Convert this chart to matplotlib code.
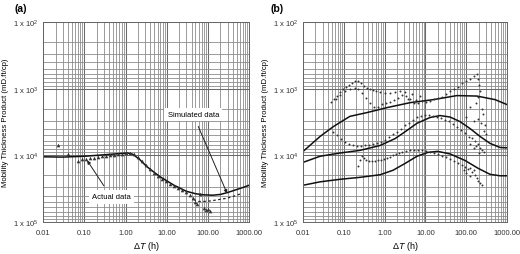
import matplotlib
matplotlib.use("Agg")
import matplotlib.pyplot as plt
from matplotlib.ticker import LogLocator, NullFormatter

plt.rcParams['font.family'] = ['Liberation Sans', 'DejaVu Sans']
plt.rcParams['mathtext.fontset'] = 'custom'
plt.rcParams['mathtext.rm'] = 'Liberation Sans'
plt.rcParams['mathtext.it'] = 'Liberation Sans:italic'

# ---------------- panel (a) ----------------
sim_a_t = [0.01, 0.03, 0.1, 0.3, 0.7, 1.1, 1.5, 2.2, 3.2, 5, 7, 10, 15, 20, 30,
           50, 80, 130, 200, 300, 500, 800, 1000]
sim_a_k = [1.05e4, 1.06e4, 1.03e4, 9.8e3, 9.4e3, 9.2e3, 9.6e3, 1.15e4, 1.45e4,
           1.8e4, 2.1e4, 2.4e4, 2.8e4, 3.05e4, 3.45e4, 3.75e4, 3.9e4, 3.95e4,
           3.85e4, 3.6e4, 3.25e4, 2.95e4, 2.8e4]

act_a_t = [0.023, 0.040, 0.071, 0.089, 0.111, 0.138, 0.173, 0.216, 0.27, 0.34,
           0.42, 0.53, 0.66, 0.83, 1.03, 1.29, 1.62, 2.02, 2.53, 3.16, 3.95,
           4.9, 6.2, 7.7, 9.7, 12.1, 15.1, 18.9, 23.7, 29.6, 37, 43.7, 48.9,
           54.7, 64.7, 80.9, 90.4, 101, 113]
act_a_k = [7100, 9660, 12300, 11480, 11480, 11090, 11090, 10720, 10350, 10100,
           10000, 9800, 9660, 9500, 9340, 9340, 9660, 10720, 12300, 14100,
           16180, 18560, 20570, 22800, 24430, 27100, 29000, 31100, 33300,
           35700, 39500, 43800, 50300, 53900, 38200, 61800, 66200, 63900, 68500]

dash_a_t = [45, 60, 80, 120, 180, 280, 420, 600]
dash_a_k = [4.6e4, 4.9e4, 4.9e4, 4.8e4, 4.6e4, 4.4e4, 4.1e4, 3.8e4]

# ---------------- panel (b) ----------------
sim_b1_t = [0.01, 0.026, 0.055, 0.14, 0.37, 1.15, 4.2, 15.5, 59, 183, 510, 1000]
sim_b1_k = [8.7e3, 5.2e3, 3.7e3, 2.6e3, 2.28e3, 1.92e3, 1.62e3, 1.46e3, 1.27e3,
            1.29e3, 1.46e3, 1.73e3]

sim_b2_t = [0.01, 0.026, 0.081, 0.25, 0.77, 1.8, 3.2, 6.2, 13, 22.8, 40, 70,
            124, 218, 383, 673, 1000]
sim_b2_k = [1.27e4, 1.03e4, 9.2e3, 8.4e3, 7.1e3, 5.6e3, 4.4e3, 3.3e3, 2.7e3,
            2.53e3, 2.66e3, 3.11e3, 3.96e3, 5.2e3, 6.6e3, 7.6e3, 7.7e3]

sim_b3_t = [0.01, 0.026, 0.081, 0.25, 0.77, 1.6, 3.16, 6.2, 11.6, 20, 40, 93,
            195, 383, 673, 1000]
sim_b3_k = [2.8e4, 2.49e4, 2.28e4, 2.13e4, 1.95e4, 1.67e4, 1.32e4, 1.03e4,
            9.0e3, 8.7e3, 9.5e3, 1.19e4, 1.56e4, 1.92e4, 2.02e4, 2.02e4]

# upper measured data (two tracks + late scatter)
dat_b1_t = [0.0485, 0.0575, 0.068, 0.081, 0.095, 0.113, 0.134, 0.159, 0.188,
            0.22, 0.26, 0.31, 0.37, 0.44, 0.52, 0.62, 0.77, 1.02, 1.36, 1.8,
            2.4, 3.2, 3.8, 4.7, 5.9, 7.4,
            0.064, 0.081, 0.107, 0.142, 0.188, 0.22, 0.28, 0.35, 0.44, 0.55,
            0.69, 0.86, 1.08, 1.36, 1.7, 2.1, 2.7, 3.3, 4.2, 5.2, 6.6, 8.2,
            10.4, 13, 16.2, 20.3, 25.5, 32, 40, 50, 63, 79, 99, 124, 156, 183,
            195, 206, 218, 195, 175, 245, 260, 195, 231, 290, 275, 308, 124,
            99, 156]
dat_b1_k = [1562, 1410, 1272, 1107, 1000, 935, 874, 814, 762, 762, 814, 903,
            968, 1000, 1034, 1070, 1107, 1146, 1146, 1107, 1070, 1107, 1410,
            1188, 1459, 1272,
            1410, 1229, 1070, 1000, 968, 1000, 1146, 1362, 1617, 1856, 1856,
            1675, 1617, 1562, 1459, 1362, 1229, 1272, 1410, 1617, 1617, 1510,
            1562, 1510, 1410, 1362, 1317, 1188, 1070, 1000, 935, 814, 762, 710,
            640, 597, 710, 874, 1070, 1317, 1617, 1990, 2360, 2805, 3215, 3560,
            4240, 4860, 1856, 2620, 3000]

# middle measured data
dat_b2_t = [0.054, 0.068, 0.085, 0.107, 0.134, 0.17, 0.21, 0.26, 0.33, 0.41,
            0.52, 0.65, 0.81, 1.02, 1.28, 1.6, 2.0, 2.5, 3.2, 4.0, 5.0, 6.2,
            7.8, 9.8, 12.3, 15.5, 19.5, 24, 30, 38, 48, 60, 74, 93, 117, 138,
            164, 195, 218, 175, 245, 124, 156, 206, 275]
dat_b2_k = [4390, 5030, 5770, 6400, 6850, 7100, 7340, 7340, 7100, 7100, 6850,
            6620, 6400, 5970, 5390, 4860, 4390, 3955, 3560, 3215, 2900, 2700,
            2530, 2440, 2440, 2530, 2620, 2710, 2900, 3100, 3440, 3700, 4100,
            4540, 5210, 5575, 6180, 6850, 7860, 7340, 8420, 6850, 7860, 9335,
            9000]

# lower measured data
dat_b3_t = [0.22, 0.25, 0.28, 0.31, 0.35, 0.415, 0.49, 0.58, 0.69, 0.82, 0.97,
            1.15, 1.36, 1.6, 1.9, 2.3, 2.7, 3.3, 4.2, 5.2, 6.6, 8.2, 10.4, 13,
            16.2, 20.3, 25.5, 32, 40, 50, 63, 79, 93, 111, 124, 139, 156, 164,
            183, 195, 218, 245, 99, 124, 88]
dat_b3_k = [14660, 11880, 10350, 11090, 11880, 12300, 12300, 12300, 11880,
            11880, 11480, 11090, 10720, 10000, 9660, 9335, 9010, 8715, 8420,
            8420, 8420, 8420, 8715, 9010, 9335, 9660, 10350, 10720, 11480,
            12300, 13160, 14100, 15100, 16200, 15630, 17930, 16750, 19900,
            22040, 24550, 26170, 28000, 18560, 20670, 16750]

x_ticks = [0.01, 0.1, 1, 10, 100, 1000]
x_labels = ['0.01', '0.10', '1.00', '10.00', '100.00', '1000.00']
y_ticks = [1e2, 1e3, 1e4, 1e5]
y_labels = ['1 x 10$^{2}$', '1 x 10$^{3}$', '1 x 10$^{4}$', '1 x 10$^{5}$']

fig = plt.figure(figsize=(5.2, 2.55), dpi=100)
ax_a = fig.add_axes([0.083, 0.125, 0.396, 0.785])
ax_b = fig.add_axes([0.583, 0.125, 0.392, 0.785])


def style_axes(ax):
    ax.set_xscale('log')
    ax.set_yscale('log')
    ax.set_xlim(0.01, 1000)
    ax.set_ylim(1e5, 1e2)
    ax.xaxis.set_minor_locator(LogLocator(base=10, subs=range(2, 10), numticks=20))
    ax.yaxis.set_minor_locator(LogLocator(base=10, subs=range(2, 10), numticks=20))
    ax.xaxis.set_minor_formatter(NullFormatter())
    ax.yaxis.set_minor_formatter(NullFormatter())
    ax.set_xticks(x_ticks)
    ax.set_xticklabels(x_labels)
    ax.set_yticks(y_ticks)
    ax.set_yticklabels(y_labels)
    ax.grid(True, which='major', color='#6a6a6a', lw=0.75)
    ax.grid(True, which='minor', color='#8c8c8c', lw=0.6)
    ax.set_axisbelow(True)
    ax.tick_params(which='both', length=0, labelsize=5.5, colors='#333333')
    ax.tick_params(axis='x', pad=5)
    ax.tick_params(axis='y', pad=3)
    for s in ax.spines.values():
        s.set_color('#666666')
        s.set_linewidth(0.7)
    ax.set_xlabel(r'$\Delta T$ (h)', fontsize=6.5, labelpad=2)
    ax.set_ylabel('Mobility Thickness Product (mD.ft/cp)', fontsize=5.6,
                  labelpad=3)


style_axes(ax_a)
style_axes(ax_b)

# panel (a)
ax_a.plot(sim_a_t, sim_a_k, color='#111111', lw=1.1)
ax_a.plot(dash_a_t, dash_a_k, color='#222222', lw=0.9, ls=(0, (2, 2)))
ax_a.plot(act_a_t, act_a_k, ls='none', marker='^', ms=2.6, color='#333333',
          markeredgewidth=0)
ax_a.annotate('Simulated data', xy=(292, 3.7e4), xytext=(44, 2460),
              fontsize=5.5, ha='center', va='center',
              bbox=dict(boxstyle='square,pad=0.4', fc='white', ec='none'),
              arrowprops=dict(arrowstyle='-|>', color='#222222', lw=0.7,
                              mutation_scale=5, shrinkA=4, shrinkB=0))
ax_a.annotate('Actual data', xy=(0.117, 1.19e4), xytext=(0.45, 4.2e4),
              fontsize=5.5, ha='center', va='center',
              bbox=dict(boxstyle='square,pad=0.4', fc='white', ec='none'),
              arrowprops=dict(arrowstyle='-|>', color='#222222', lw=0.7,
                              mutation_scale=5, shrinkA=4, shrinkB=0))

# panel (b)
for t, k in [(sim_b1_t, sim_b1_k), (sim_b2_t, sim_b2_k), (sim_b3_t, sim_b3_k)]:
    ax_b.plot(t, k, color='#111111', lw=1.1)
for t, k in [(dat_b1_t, dat_b1_k), (dat_b2_t, dat_b2_k), (dat_b3_t, dat_b3_k)]:
    ax_b.plot(t, k, ls='none', marker='o', ms=1.4, color='#333333',
              markeredgewidth=0)

fig.text(0.028, 0.985, '(a)', fontsize=7.5, fontweight='bold', va='top')
fig.text(0.521, 0.985, '(b)', fontsize=7.5, fontweight='bold', va='top')

fig.savefig('out.png', dpi=100)
